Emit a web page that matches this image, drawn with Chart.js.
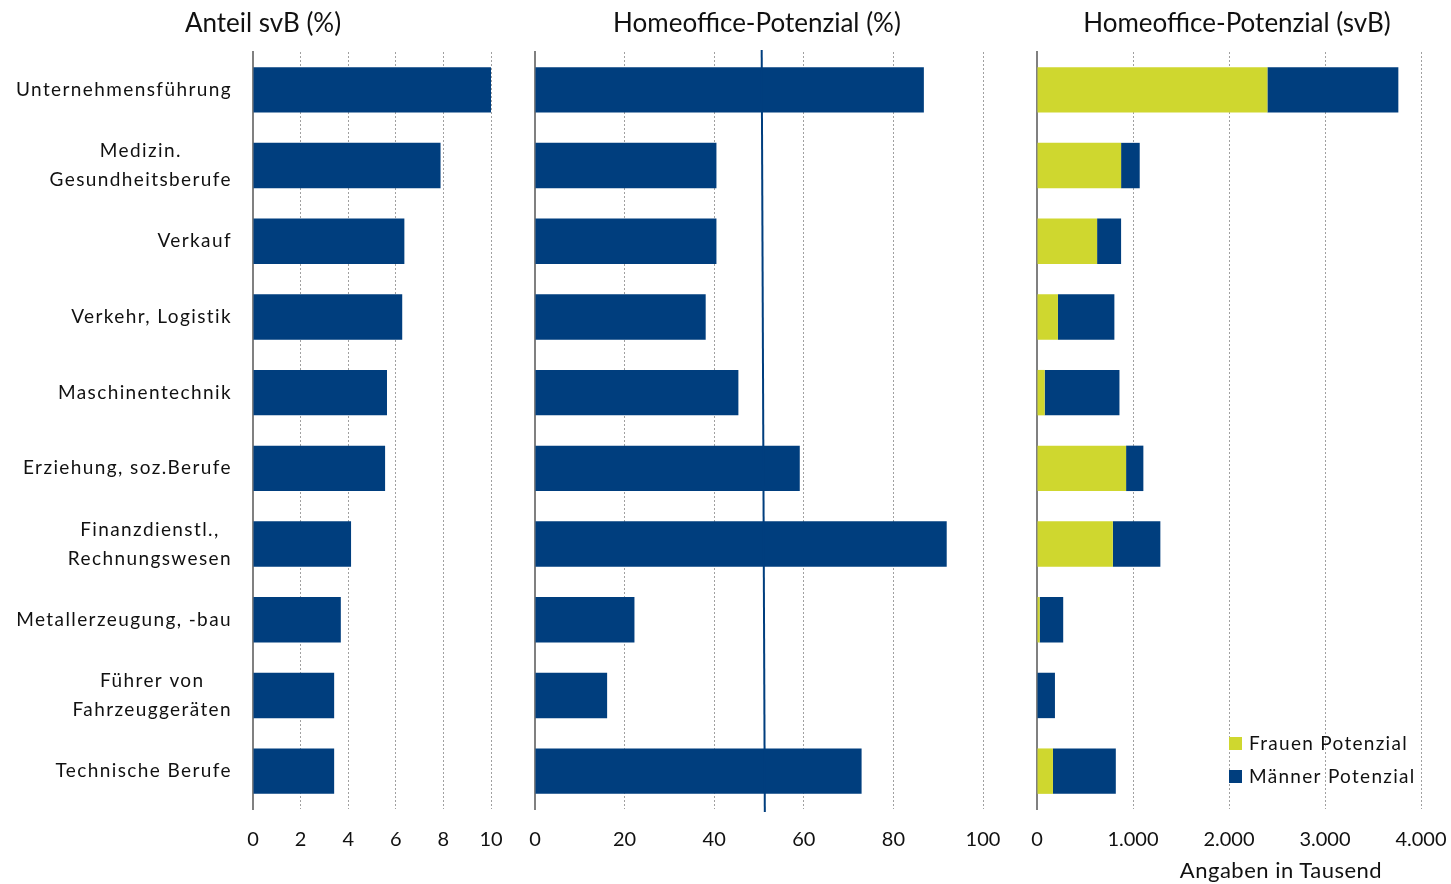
<!DOCTYPE html>
<html>
<head>
<meta charset="utf-8">
<script src="https://cdn.jsdelivr.net/npm/chart.js@4.4.1/dist/chart.umd.min.js"></script>
<style>
body{margin:0;background:#fff;font-family:Lato,sans-serif;}
#wrap{position:relative;width:1451px;height:884px;overflow:hidden;}
canvas{position:absolute;top:0;left:0;}
.ttl{position:absolute;top:8px;font-size:26px;line-height:28px;color:#111;white-space:nowrap;transform:translateX(-50%);}
.axt{position:absolute;top:857px;font-size:22px;line-height:26px;letter-spacing:0.5px;color:#111;white-space:nowrap;transform:translateX(-50%);}
</style>
</head>
<body>
<div id="wrap">
  <canvas id="c1" width="1451" height="884"></canvas>
  <canvas id="c2" width="1451" height="884"></canvas>
  <canvas id="c3" width="1551" height="884"></canvas>
  <div class="ttl" style="left:263px">Anteil svB (%)</div>
  <div class="ttl" style="left:757px">Homeoffice-Potenzial (%)</div>
  <div class="ttl" style="left:1237px">Homeoffice-Potenzial (svB)</div>
  <div class="axt" style="left:1281px">Angaben in Tausend</div>
</div>
<script>
// Berufsgruppen (von oben nach unten)
const categories = [
  ['Unternehmensführung'], ['Medizin.', 'Gesundheitsberufe'], ['Verkauf'], ['Verkehr, Logistik'],
  ['Maschinentechnik'], ['Erziehung, soz.Berufe'], ['Finanzdienstl.,', 'Rechnungswesen'],
  ['Metallerzeugung, -bau'], ['Führer von', 'Fahrzeuggeräten'], ['Technische Berufe']
];
const anteilSvB = [10.0, 7.88, 6.36, 6.27, 5.63, 5.55, 4.12, 3.69, 3.41, 3.41];
const homeofficePct = [86.8, 40.5, 40.5, 38.1, 45.4, 59.1, 91.9, 22.2, 16.1, 72.9];
const avgLine = [50.6, 51.3];           // Durchschnittslinie oben / unten
const frauenPot = [2400, 876, 626, 218, 80, 928, 790, 28, 5, 166];
const maennerPot = [1364, 194, 250, 588, 779, 180, 495, 245, 182, 655];
const legendLabels = ['Frauen Potenzial', 'Männer Potenzial'];

const BLUE = '#003e7e', GREEN = '#cfd72f';
Chart.defaults.font.family = 'Lato';
Chart.defaults.color = '#111';

const fmtDE = v => String(v).replace(/\B(?=(\d{3})+(?!\d))/g, '.');

function xOpts(max, step, fmt){
  return {
    min: 0, max: max,
    ticks: { stepSize: step, font: { size: 20 }, padding: 19, callback: fmt || (v => v) },
    grid: { drawTicks: false, lineWidth: 1, color: c => c.index === 0 ? 'rgba(0,0,0,0)' : '#a0a0a0' },
    border: { display: false, dash: [2, 2] },
    afterFit: s => { s.height = 75; }
  };
}
function yOpts(w){
  return {
    ticks: { display: false },
    grid: { display: false },
    border: { display: true, color: '#808080', width: 2 },
    afterFit: s => { s.width = w; }
  };
}
const common = {
  responsive: false, animation: false, indexAxis: 'y',
  plugins: { legend: { display: false }, tooltip: { enabled: false } }
};

const catLabels = {
  id: 'catLabels',
  afterDraw(chart){
    const ctx = chart.ctx, s = chart.scales.y;
    ctx.save();
    ctx.font = '19px Lato';
    ctx.letterSpacing = '1.4px';
    ctx.fillStyle = '#111';
    ctx.textAlign = 'center';
    ctx.textBaseline = 'middle';
    chart.data.labels.forEach((lab, i) => {
      const lines = Array.isArray(lab) ? lab : [lab];
      const w = Math.max(...lines.map(l => ctx.measureText(l).width));
      const cx = s.right - 21 - w / 2;
      const y0 = s.getPixelForValue(i) - (lines.length - 1) * 29 / 2;
      lines.forEach((l, j) => ctx.fillText(l, cx, y0 + j * 29));
    });
    ctx.restore();
  }
};

const avgPlugin = {
  id: 'avgPlugin',
  afterDatasetsDraw(chart){
    const ctx = chart.ctx, x = chart.scales.x, a = chart.chartArea;
    ctx.save();
    ctx.strokeStyle = BLUE;
    ctx.lineWidth = 2;
    ctx.beginPath();
    ctx.moveTo(x.getPixelForValue(avgLine[0]), a.top - 2);
    ctx.lineTo(x.getPixelForValue(avgLine[1]), a.bottom + 3);
    ctx.stroke();
    ctx.restore();
  }
};

const boxLegend = {
  id: 'boxLegend',
  afterDraw(chart){
    const ctx = chart.ctx, a = chart.chartArea;
    ctx.save();
    ctx.font = '19px Lato';
    ctx.letterSpacing = '1.3px';
    ctx.textBaseline = 'middle';
    chart.data.datasets.forEach((d, i) => {
      const y = a.bottom - 65 + i * 33;
      ctx.fillStyle = d.backgroundColor;
      ctx.fillRect(a.right - 192, y - 7, 13, 13);
      ctx.fillStyle = '#111';
      ctx.fillText(d.label, a.right - 172, y);
    });
    ctx.restore();
  }
};

new Chart(document.getElementById('c1'), {
  type: 'bar',
  data: { labels: categories, datasets: [{ data: anteilSvB, backgroundColor: BLUE, barPercentage: 0.6, categoryPercentage: 1 }] },
  options: { ...common, layout: { padding: { top: 52, right: 960, left: 0, bottom: 0 } },
    scales: { x: xOpts(10, 2), y: yOpts(253) } },
  plugins: [catLabels]
});

new Chart(document.getElementById('c2'), {
  type: 'bar',
  data: { labels: categories, datasets: [{ data: homeofficePct, backgroundColor: BLUE, barPercentage: 0.6, categoryPercentage: 1 }] },
  options: { ...common, layout: { padding: { top: 52, right: 468, left: 0, bottom: 0 } },
    scales: { x: xOpts(100, 20), y: yOpts(535) } },
  plugins: [avgPlugin]
});

new Chart(document.getElementById('c3'), {
  type: 'bar',
  data: { labels: categories, datasets: [
    { label: legendLabels[0], data: frauenPot, backgroundColor: GREEN, barPercentage: 0.6, categoryPercentage: 1 },
    { label: legendLabels[1], data: maennerPot, backgroundColor: BLUE, barPercentage: 0.6, categoryPercentage: 1 }
  ] },
  options: { ...common, layout: { padding: { top: 52, right: 130, left: 0, bottom: 0 } },
    scales: { x: { ...xOpts(4000, 1000, fmtDE), stacked: true }, y: { ...yOpts(1037), stacked: true } } },
  plugins: [boxLegend]
});
</script>
</body>
</html>
